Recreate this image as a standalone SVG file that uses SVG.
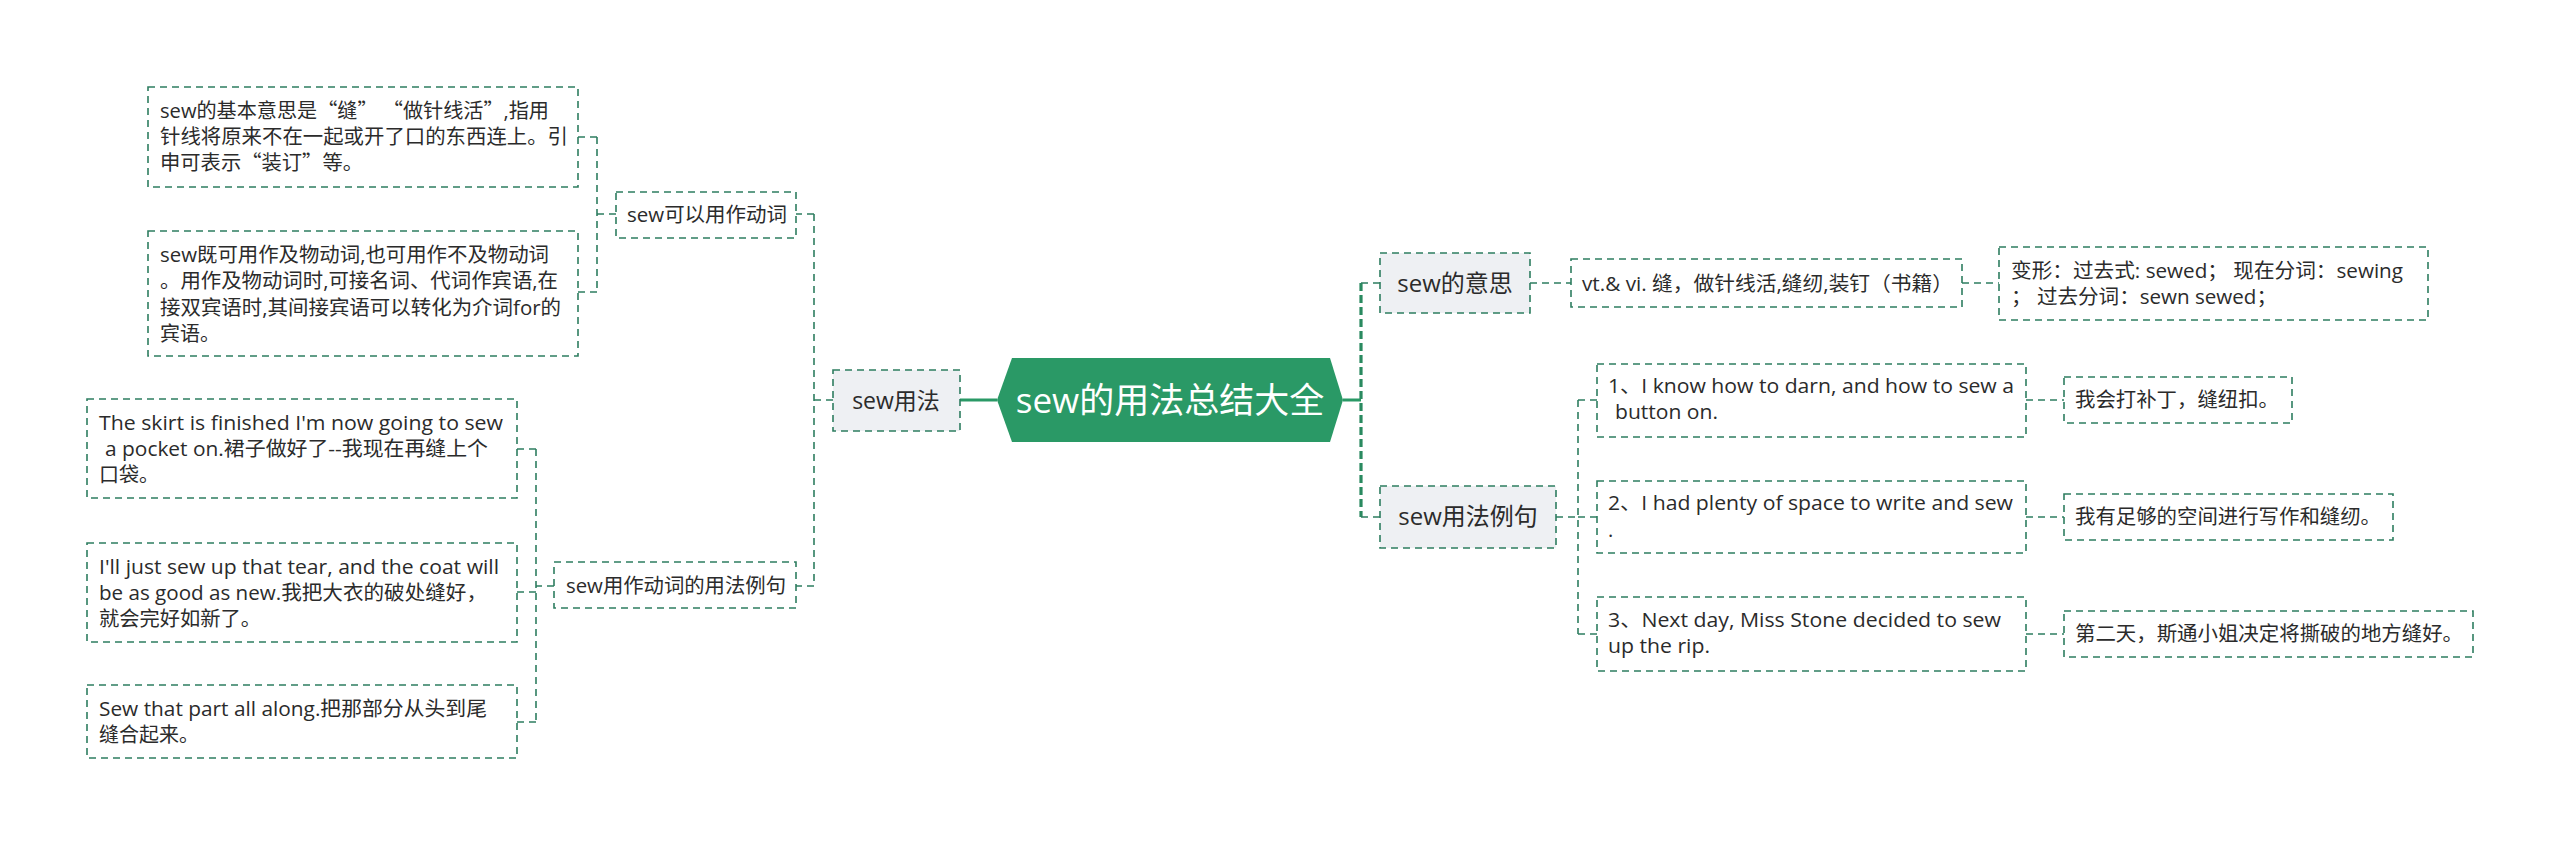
<svg xmlns="http://www.w3.org/2000/svg" width="2560" height="846" viewBox="0 0 2560 846">
<style>
text{font-family:"Open Sans","Noto Sans CJK SC",sans-serif;fill:#2b2b2b;font-size:20px}
.q{font-family:"Noto Sans CJK SC",sans-serif}
.box{fill:#ffffff;stroke:#2e7d60;stroke-width:1.6;stroke-dasharray:7 5}
.l1{fill:#eef0f3;stroke:#2e7d60;stroke-width:1.6;stroke-dasharray:7 5}
.big{font-size:24px}
.c{text-anchor:middle}
.ln{fill:none;stroke:#2e7d60;stroke-width:1.6;stroke-dasharray:7 5}
.thick{fill:none;stroke:#2a8a60;stroke-width:3.2;stroke-dasharray:8 4}
.solid{fill:none;stroke:#2a9966;stroke-width:3}
</style>
<rect width="2560" height="846" fill="#ffffff"/>
<g id="connectors">
<path class="solid" d="M960 400H997M1343 400H1361"/>
<path class="thick" d="M1361 283V517"/>
<path class="ln" d="M1361 283H1380M1361 517H1380"/>
<path class="ln" d="M1530 283H1571M1962 283H1999"/>
<path class="ln" d="M1556 517H1578M1578 400V634M1578 400H1597M1578 517H1597M1578 634H1597"/>
<path class="ln" d="M2026 400H2064M2026 517H2064M2026 634H2064"/>
<path class="ln" d="M833 400H814M814 214V586M814 214H796M814 586H796"/>
<path class="ln" d="M616 214H597M597 137V292M597 137H578M597 292H578"/>
<path class="ln" d="M554 586H536M536 449V722M536 449H517M536 592H517M536 722H517"/>
</g>
<g id="root">
<polygon points="997,400 1012,358 1330,358 1343,400 1330,442 1012,442" fill="#2a9966"/>
<text x="1170" y="413" class="c" style="font-size:35px;fill:#ffffff">sew的用法总结大全</text>
</g>
<g id="n-yongfa">
<rect class="l1" x="833" y="370" width="127" height="61"/>
<text x="896" y="409" class="c" style="font-size:23px">sew用法</text>
</g>
<g id="n-dongci">
<rect class="box" x="616" y="192" width="180" height="46"/>
<text x="627" y="222" textLength="160" lengthAdjust="spacingAndGlyphs">sew可以用作动词</text>
</g>
<g id="n-d1">
<rect class="box" x="148" y="87" width="430" height="100"/>
<text x="160" y="118" textLength="389" lengthAdjust="spacingAndGlyphs">sew的基本意思是<tspan class="q">“</tspan>缝<tspan class="q">”</tspan> <tspan class="q">“</tspan>做针线活<tspan class="q">”</tspan>,指用</text>
<text x="160" y="144" textLength="408" lengthAdjust="spacingAndGlyphs">针线将原来不在一起或开了口的东西连上。引</text>
<text x="160" y="170" textLength="203" lengthAdjust="spacingAndGlyphs">申可表示<tspan class="q">“</tspan>装订<tspan class="q">”</tspan>等。</text>
</g>
<g id="n-d2">
<rect class="box" x="148" y="231" width="430" height="125"/>
<text x="160" y="262" textLength="389" lengthAdjust="spacingAndGlyphs">sew既可用作及物动词,也可用作不及物动词</text>
<text x="160" y="288" textLength="398" lengthAdjust="spacingAndGlyphs">。用作及物动词时,可接名词、代词作宾语,在</text>
<text x="160" y="315" textLength="401" lengthAdjust="spacingAndGlyphs">接双宾语时,其间接宾语可以转化为介词for的</text>
<text x="160" y="341">宾语。</text>
</g>
<g id="n-liju">
<rect class="box" x="554" y="562" width="242" height="46"/>
<text x="566" y="593" textLength="220" lengthAdjust="spacingAndGlyphs">sew用作动词的用法例句</text>
</g>
<g id="n-e1">
<rect class="box" x="87" y="399" width="430" height="99"/>
<text x="99" y="430" textLength="404" lengthAdjust="spacingAndGlyphs">The skirt is finished I'm now going to sew</text>
<text x="105" y="456" textLength="383" lengthAdjust="spacingAndGlyphs">a pocket on.裙子做好了--我现在再缝上个</text>
<text x="99" y="482">口袋。</text>
</g>
<g id="n-e2">
<rect class="box" x="87" y="543" width="430" height="99"/>
<text x="99" y="574" textLength="400" lengthAdjust="spacingAndGlyphs">I'll just sew up that tear, and the coat will</text>
<text x="99" y="600" textLength="388" lengthAdjust="spacingAndGlyphs">be as good as new.我把大衣的破处缝好，</text>
<text x="99" y="626" textLength="162" lengthAdjust="spacingAndGlyphs">就会完好如新了。</text>
</g>
<g id="n-e3">
<rect class="box" x="87" y="685" width="430" height="73"/>
<text x="99" y="716" textLength="388" lengthAdjust="spacingAndGlyphs">Sew that part all along.把那部分从头到尾</text>
<text x="99" y="742">缝合起来。</text>
</g>
<g id="n-yisi">
<rect class="l1" x="1380" y="253" width="150" height="60"/>
<text x="1455" y="292" class="c big">sew的意思</text>
</g>
<g id="n-vt">
<rect class="box" x="1571" y="259" width="391" height="48"/>
<text x="1582" y="291" textLength="371" lengthAdjust="spacingAndGlyphs">vt.&amp; vi. 缝，做针线活,缝纫,装钉（书籍）</text>
</g>
<g id="n-bx">
<rect class="box" x="1999" y="247" width="429" height="73"/>
<text x="2011" y="278" textLength="392" lengthAdjust="spacingAndGlyphs">变形：过去式: sewed； 现在分词：sewing</text>
<text x="2011" y="304" textLength="266" lengthAdjust="spacingAndGlyphs">； 过去分词：sewn sewed；</text>
</g>
<g id="n-lj">
<rect class="l1" x="1380" y="486" width="176" height="62"/>
<text x="1468" y="525" class="c big">sew用法例句</text>
</g>
<g id="n-s1">
<rect class="box" x="1597" y="364" width="429" height="73"/>
<text x="1608" y="393" textLength="406" lengthAdjust="spacingAndGlyphs">1、I know how to darn, and how to sew a</text>
<text x="1615" y="419" textLength="103" lengthAdjust="spacingAndGlyphs">button on.</text>
</g>
<g id="n-s2">
<rect class="box" x="1597" y="481" width="429" height="72"/>
<text x="1608" y="510" textLength="405" lengthAdjust="spacingAndGlyphs">2、I had plenty of space to write and sew</text>
<text x="1608" y="537">.</text>
</g>
<g id="n-s3">
<rect class="box" x="1597" y="597" width="429" height="74"/>
<text x="1608" y="627" textLength="393" lengthAdjust="spacingAndGlyphs">3、Next day, Miss Stone decided to sew</text>
<text x="1608" y="653" textLength="102" lengthAdjust="spacingAndGlyphs">up the rip.</text>
</g>
<g id="n-t1">
<rect class="box" x="2064" y="377" width="228" height="46"/>
<text x="2075" y="407" textLength="204" lengthAdjust="spacingAndGlyphs">我会打补丁，缝纽扣。</text>
</g>
<g id="n-t2">
<rect class="box" x="2064" y="494" width="329" height="46"/>
<text x="2075" y="524" textLength="306" lengthAdjust="spacingAndGlyphs">我有足够的空间进行写作和缝纫。</text>
</g>
<g id="n-t3">
<rect class="box" x="2064" y="611" width="409" height="46"/>
<text x="2075" y="641" textLength="388" lengthAdjust="spacingAndGlyphs">第二天，斯通小姐决定将撕破的地方缝好。</text>
</g>
</svg>
